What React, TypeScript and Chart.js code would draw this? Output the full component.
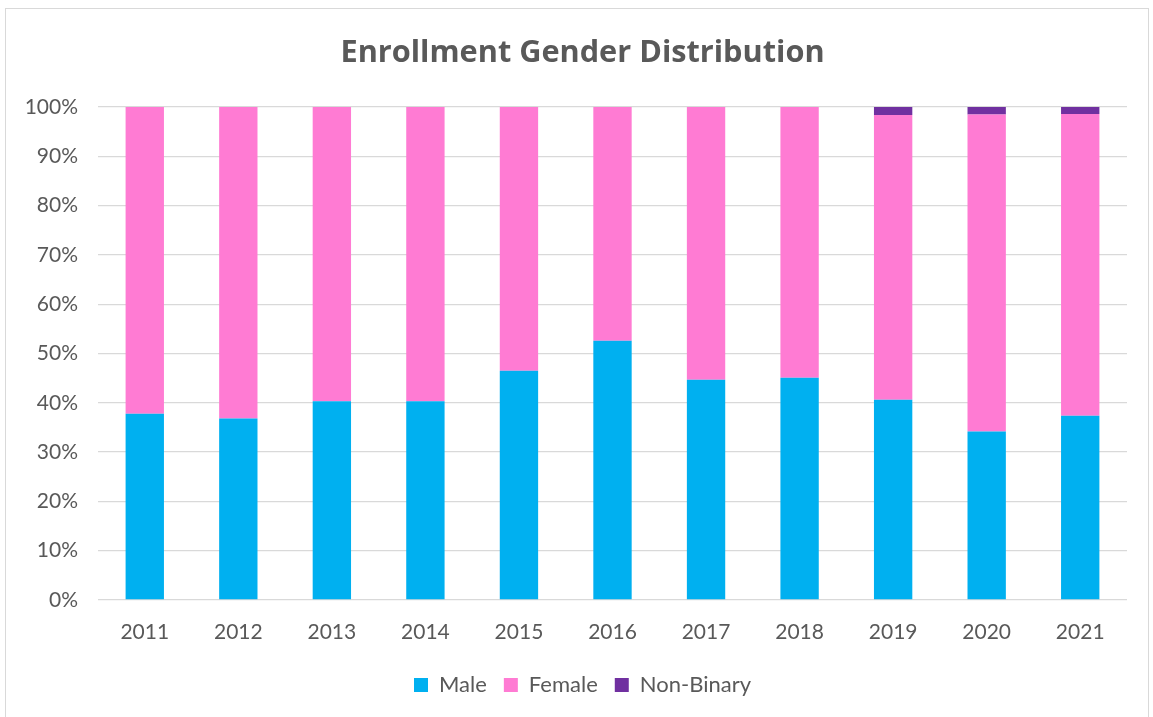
import React, { useEffect, useRef } from "react";
import { Chart, registerables } from "chart.js";

Chart.register(...registerables);

const years = ["2011", "2012", "2013", "2014", "2015", "2016", "2017", "2018", "2019", "2020", "2021"];
const male = [37.8, 36.8, 40.3, 40.3, 46.5, 52.6, 44.7, 45.1, 40.6, 34.2, 37.4];
const female = [62.2, 63.2, 59.7, 59.7, 53.5, 47.4, 55.3, 54.9, 57.8, 64.3, 61.2];
const nonBinary = [0, 0, 0, 0, 0, 0, 0, 0, 1.6, 1.5, 1.4];

const FONT = "Lato, 'Open Sans', sans-serif";
const TITLE_FONT = "'Open Sans', Lato, sans-serif";
const GREY = "#595959";

const widenYAxis = {
  id: "widenYAxis",
  afterLayout(chart: any) {
    if (chart.scales && chart.scales.y) chart.scales.y.left = 0;
  },
};

export default function App() {
  const ref = useRef<HTMLCanvasElement | null>(null);
  useEffect(() => {
    if (!ref.current) return;
    const chart = new Chart(ref.current, {
      type: "bar",
      data: {
        labels: years,
        datasets: [
          { label: "Male", data: male, backgroundColor: "#00B0F0" },
          { label: "Female", data: female, backgroundColor: "#FF7BD3" },
          { label: "Non-Binary", data: nonBinary, backgroundColor: "#7030A0" },
        ],
      },
      plugins: [widenYAxis],
      options: {
        responsive: false,
        animation: false,
        layout: { padding: { top: 35, left: 38, right: 26, bottom: 11 } },
        datasets: { bar: { barPercentage: 0.41, categoryPercentage: 1 } },
        plugins: {
          title: {
            display: true,
            text: "Enrollment Gender Distribution",
            color: GREY,
            font: { family: TITLE_FONT, size: 30.7, weight: "bold" },
            padding: { top: 0, bottom: 35.2 },
          },
          legend: {
            position: "bottom",
            labels: {
              color: GREY,
              font: { family: FONT, size: 22 },
              boxWidth: 14,
              boxHeight: 14,
              padding: 17,
            },
          },
          tooltip: { enabled: false },
        },
        scales: {
          x: {
            stacked: true,
            grid: { display: false, drawTicks: false },
            border: { display: false },
            ticks: { color: GREY, font: { family: FONT, size: 21 }, padding: 20 },
            afterFit: (s: any) => { s.height = 57; },
          },
          y: {
            stacked: true,
            min: 0,
            max: 100,
            grid: { color: "#d9d9d9", lineWidth: 1.3, drawTicks: false },
            border: { display: false },
            ticks: {
              stepSize: 10,
              color: GREY,
              font: { family: FONT, size: 21 },
              padding: 20,
              callback: (v: any) => v + "%",
            },
            afterFit: (s: any) => { s.width = 60; },
          },
        },
      },
    });
    return () => chart.destroy();
  }, []);
  return (
    <div style={{ position: "absolute", left: 0, top: 0, width: 1153, height: 717, background: "#fff" }}>
      <div style={{ position: "absolute", left: 5, top: 8, width: 1144, height: 712, border: "1.5px solid #d9d9d9", boxSizing: "border-box" }} />
      <canvas ref={ref} width={1153} height={717} style={{ position: "absolute", left: 0, top: 0 }} />
    </div>
  );
}
